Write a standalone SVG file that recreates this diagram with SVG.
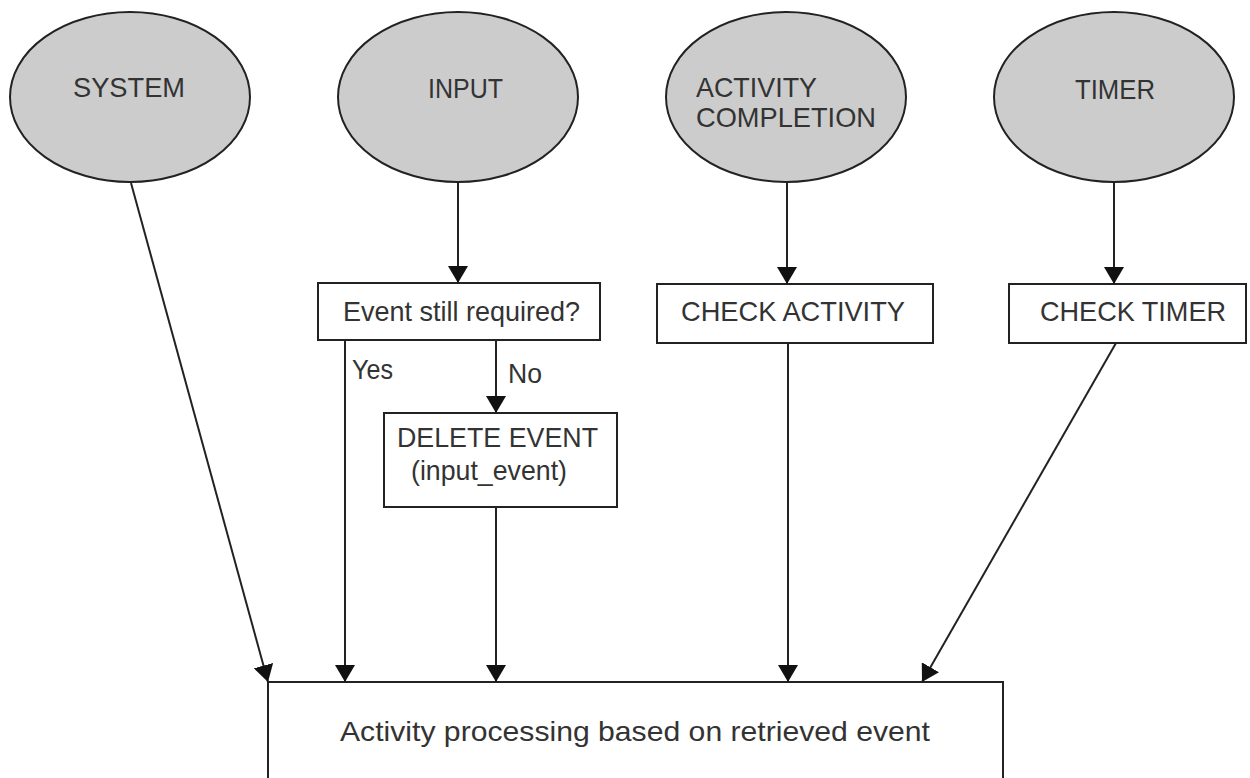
<svg xmlns="http://www.w3.org/2000/svg" width="1250" height="778" viewBox="0 0 1250 778">
  <style>
    .src { fill: #cccccc; stroke: #222; stroke-width: 2; }
    .box { fill: #ffffff; stroke: #222; stroke-width: 2; }
    .lbl { font-family: "Liberation Sans", Arial, sans-serif; font-size: 28.5px; fill: #333; }
    .edge { fill: none; stroke: #222; stroke-width: 2; marker-end: url(#arrow); }
  </style>
  <defs>
    <marker id="arrow" markerUnits="userSpaceOnUse" viewBox="0 0 17 20" refX="17" refY="10" markerWidth="17" markerHeight="20" orient="auto">
      <path d="M0,0 L17,10 L0,20 z" fill="#111"/>
    </marker>
  </defs>
  <rect width="1250" height="778" fill="#ffffff"/>

  <!-- event sources -->
  <g id="system">
    <ellipse class="src" cx="130" cy="97" rx="120" ry="85"/>
    <text class="lbl" x="73" y="97" textLength="112" lengthAdjust="spacingAndGlyphs">SYSTEM</text>
  </g>
  <g id="input">
    <ellipse class="src" cx="458" cy="97" rx="120" ry="85"/>
    <text class="lbl" x="428" y="98" textLength="75" lengthAdjust="spacingAndGlyphs">INPUT</text>
  </g>
  <g id="activity-completion">
    <ellipse class="src" cx="786" cy="97" rx="120" ry="85"/>
    <text class="lbl" x="696" y="97" textLength="121" lengthAdjust="spacingAndGlyphs">ACTIVITY</text>
    <text class="lbl" x="696" y="127" textLength="180" lengthAdjust="spacingAndGlyphs">COMPLETION</text>
  </g>
  <g id="timer">
    <ellipse class="src" cx="1114" cy="97" rx="120" ry="85"/>
    <text class="lbl" x="1075" y="99" textLength="80" lengthAdjust="spacingAndGlyphs">TIMER</text>
  </g>

  <!-- intermediate steps -->
  <g id="event-required">
    <rect class="box" x="318" y="283" width="282" height="57"/>
    <text class="lbl" x="343" y="321" textLength="237" lengthAdjust="spacingAndGlyphs">Event still required?</text>
  </g>
  <g id="delete-event">
    <rect class="box" x="384" y="413" width="233" height="94"/>
    <text class="lbl" x="397" y="447" textLength="201" lengthAdjust="spacingAndGlyphs">DELETE EVENT</text>
    <text class="lbl" x="411" y="480" textLength="156" lengthAdjust="spacingAndGlyphs">(input_event)</text>
  </g>
  <g id="check-activity">
    <rect class="box" x="657" y="284" width="276" height="59"/>
    <text class="lbl" x="681" y="321" textLength="224" lengthAdjust="spacingAndGlyphs">CHECK ACTIVITY</text>
  </g>
  <g id="check-timer">
    <rect class="box" x="1009" y="284" width="237" height="59"/>
    <text class="lbl" x="1040" y="321" textLength="186" lengthAdjust="spacingAndGlyphs">CHECK TIMER</text>
  </g>

  <!-- final processing -->
  <g id="activity-processing">
    <rect class="box" x="268" y="682" width="735" height="130"/>
    <text class="lbl" x="340" y="741" textLength="590" lengthAdjust="spacingAndGlyphs">Activity processing based on retrieved event</text>
  </g>

  <!-- connectors -->
  <g id="connectors">
    <line class="edge" x1="131" y1="183" x2="268" y2="682"/>
    <line class="edge" x1="458" y1="182" x2="458" y2="283"/>
    <line class="edge" x1="345" y1="340" x2="345" y2="682"/>
    <line class="edge" x1="496" y1="340" x2="496" y2="413"/>
    <line class="edge" x1="496" y1="507" x2="496" y2="682"/>
    <line class="edge" x1="787" y1="182" x2="787" y2="284"/>
    <line class="edge" x1="788" y1="343" x2="788" y2="682"/>
    <line class="edge" x1="1114" y1="182" x2="1114" y2="284"/>
    <line class="edge" x1="1116" y1="343" x2="922" y2="682"/>
    <text class="lbl" x="352" y="379" textLength="41" lengthAdjust="spacingAndGlyphs">Yes</text>
    <text class="lbl" x="508" y="383" textLength="34" lengthAdjust="spacingAndGlyphs">No</text>
  </g>
</svg>
